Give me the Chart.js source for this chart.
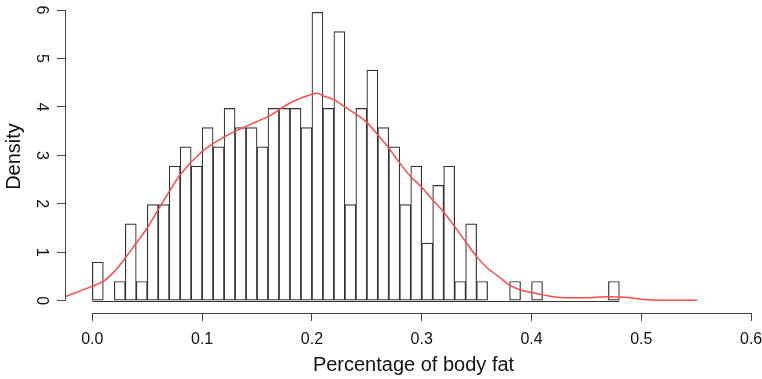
<!DOCTYPE html>
<html lang="en">
  <head>
    <meta charset="UTF-8" />
    <title>Percentage of body fat - histogram</title>
    <script src="https://cdn.jsdelivr.net/npm/chart.js"></script>
    <style>
      * {
        margin: 0;
        padding: 0;
        box-sizing: border-box;
      }

      body {
        background: white;
        width: 762px;
        height: 379px;
        overflow: hidden;
      }

      .wrap {
        position: relative;
        width: 762px;
        height: 379px;
      }
    </style>
  </head>
  <body>
    <div class="wrap"><canvas id="fatChart"></canvas></div>

    <script>
      // histogram bins of width 0.01, counts (n = 252)
      const binStarts = [
        0, 0.01, 0.02, 0.03, 0.04, 0.05, 0.06, 0.07, 0.08, 0.09, 0.1, 0.11,
        0.12, 0.13, 0.14, 0.15, 0.16, 0.17, 0.18, 0.19, 0.2, 0.21, 0.22, 0.23,
        0.24, 0.25, 0.26, 0.27, 0.28, 0.29, 0.3, 0.31, 0.32, 0.33, 0.34, 0.35,
        0.36, 0.37, 0.38, 0.39, 0.4, 0.41, 0.42, 0.43, 0.44, 0.45, 0.46, 0.47,
      ];
      const binCounts = [
        2, 0, 1, 4, 1, 5, 5, 7, 8, 7, 9, 8, 10, 9, 9, 8, 10, 10, 10, 9, 15, 10,
        14, 5, 10, 12, 9, 8, 5, 7, 3, 6, 7, 1, 4, 1, 0, 0, 1, 0, 1, 0, 0, 0, 0,
        0, 0, 1,
      ];
      const binWidth = 0.01;
      const sampleSize = 252;

      // kernel density curve (red line)
      const densityX = [
        -0.0249, 0, 0.01, 0.02, 0.03, 0.04, 0.05, 0.06, 0.07, 0.08, 0.1, 0.12,
        0.135, 0.15, 0.16, 0.18, 0.2, 0.205, 0.21, 0.22, 0.23, 0.25, 0.26,
        0.27, 0.28, 0.29, 0.3, 0.31, 0.32, 0.33, 0.34, 0.35, 0.36, 0.37, 0.38,
        0.39, 0.4, 0.41, 0.43, 0.45, 0.47, 0.485, 0.5, 0.52, 0.551,
      ];
      const densityY = [
        0.08, 0.3, 0.4, 0.6, 0.88, 1.19, 1.5, 1.88, 2.25, 2.6, 3.08, 3.38,
        3.55, 3.7, 3.8, 4.08, 4.26, 4.28, 4.23, 4.15, 4.0, 3.68, 3.42, 3.15,
        2.84, 2.56, 2.34, 2.08, 1.83, 1.53, 1.22, 0.91, 0.67, 0.5, 0.32, 0.22,
        0.17, 0.12, 0.06, 0.06, 0.08, 0.07, 0.03, 0.01, 0.01,
      ];

      const xTicks = [0, 0.1, 0.2, 0.3, 0.4, 0.5, 0.6];
      const yTicks = [0, 1, 2, 3, 4, 5, 6];

      const axisColor = "#444";
      const textColor = "#111";

      // R style axes: lines only from the first to the last tick
      const rAxes = {
        id: "rAxes",
        afterDatasetsDraw(chart) {
          const { ctx, chartArea } = chart;
          const x = chart.scales.x;
          const y = chart.scales.y;
          ctx.save();
          ctx.strokeStyle = axisColor;
          ctx.lineWidth = 1;
          ctx.beginPath();
          const by = Math.round(chartArea.bottom) + 0.5;
          ctx.moveTo(x.getPixelForValue(xTicks[0]), by);
          ctx.lineTo(x.getPixelForValue(xTicks[xTicks.length - 1]), by);
          const lx = Math.round(chartArea.left) + 0.5;
          ctx.moveTo(lx, y.getPixelForValue(yTicks[0]));
          ctx.lineTo(lx, y.getPixelForValue(yTicks[yTicks.length - 1]));
          ctx.stroke();

          // baseline under the bins
          ctx.strokeStyle = "#333";
          ctx.beginPath();
          const zy = Math.round(y.getPixelForValue(0)) + 0.5;
          ctx.moveTo(x.getPixelForValue(binStarts[0]), zy);
          ctx.lineTo(
            x.getPixelForValue(binStarts[binStarts.length - 1] + binWidth),
            zy
          );
          ctx.stroke();
          ctx.restore();
        },
      };

      const barData = binStarts.map((s, i) => ({
        x: s + binWidth / 2,
        y: binCounts[i] / (sampleSize * binWidth),
      }));
      const lineData = densityX.map((v, i) => ({ x: v, y: densityY[i] }));

      const ctx = document.getElementById("fatChart").getContext("2d");
      new Chart(ctx, {
        type: "bar",
        data: {
          datasets: [
            {
              type: "line",
              data: lineData,
              borderColor: "#ff4a4a",
              borderWidth: 1.5,
              pointRadius: 0,
              cubicInterpolationMode: "monotone",
              fill: false,
            },
            {
              type: "bar",
              data: barData,
              backgroundColor: "white",
              borderColor: "#333",
              borderWidth: 1.2,
              borderSkipped: false,
              barPercentage: 1,
              categoryPercentage: 1,
            },
          ],
        },
        options: {
          responsive: true,
          maintainAspectRatio: false,
          animation: false,
          layout: { padding: 0 },
          plugins: {
            legend: { display: false },
            tooltip: { enabled: false },
          },
          scales: {
            x: {
              type: "linear",
              min: -0.0249,
              max: 0.6099,
              offset: false,
              afterBuildTicks: (s) => {
                s.ticks = xTicks.map((v) => ({ value: v }));
              },
              afterFit: (s) => {
                s.height = 66;
                s.paddingLeft = 0;
                s.paddingRight = 0;
              },
              grid: {
                display: true,
                drawOnChartArea: false,
                drawTicks: true,
                tickLength: 8,
                color: axisColor,
                offset: false,
              },
              border: { display: false },
              ticks: {
                color: textColor,
                padding: 9,
                maxRotation: 0,
                autoSkip: false,
                font: { family: "'Liberation Sans', Arial", size: 16 },
                callback: (v) => v.toFixed(1),
              },
              title: {
                display: true,
                text: "Percentage of body fat",
                color: textColor,
                font: { family: "'Liberation Sans', Arial", size: 20 },
                padding: { top: 0, bottom: 2 },
              },
            },
            y: {
              type: "linear",
              min: -0.254,
              max: 6.207,
              afterBuildTicks: (s) => {
                s.ticks = yTicks.map((v) => ({ value: v }));
              },
              afterFit: (s) => {
                s.width = 65;
                s.paddingTop = 0;
                s.paddingBottom = 0;
              },
              grid: {
                display: true,
                drawOnChartArea: false,
                drawTicks: true,
                tickLength: 8,
                color: axisColor,
              },
              border: { display: false },
              ticks: {
                color: textColor,
                padding: 11,
                minRotation: -90,
                maxRotation: -90,
                crossAlign: "center",
                autoSkip: false,
                font: { family: "'Liberation Sans', Arial", size: 16 },
                callback: (v) => String(v),
              },
              title: {
                display: true,
                text: "Density",
                color: textColor,
                font: { family: "'Liberation Sans', Arial", size: 20 },
                padding: { top: 2, bottom: 0 },
              },
            },
          },
        },
        plugins: [rAxes],
      });
    </script>
  </body>
</html>
